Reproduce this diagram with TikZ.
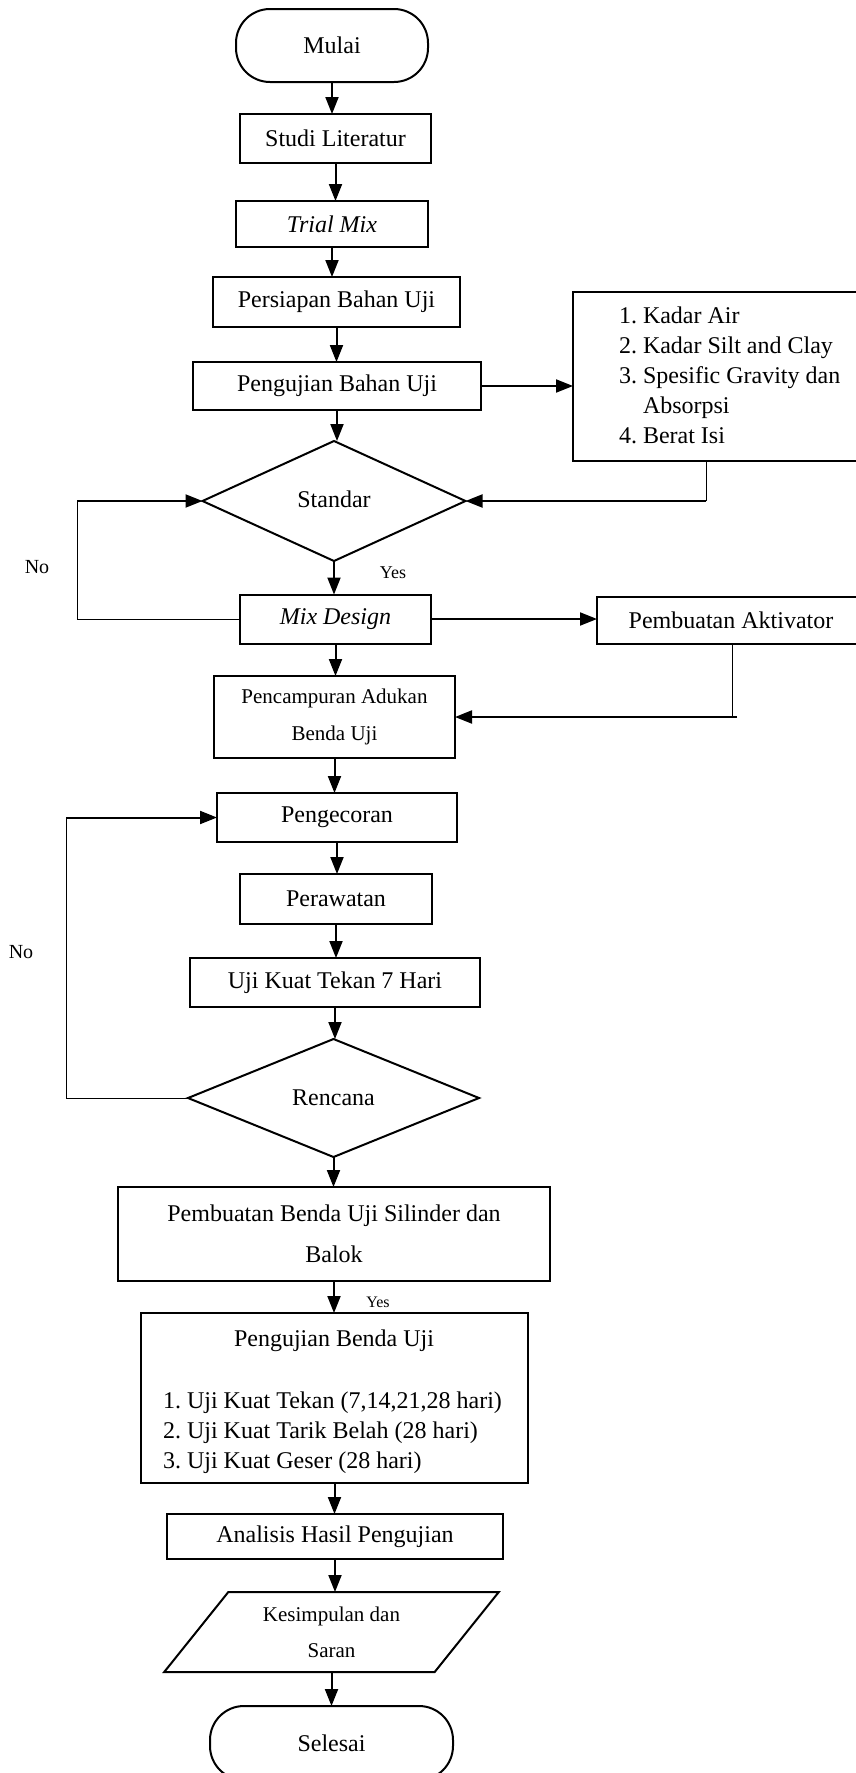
\documentclass[tikz,border=0pt]{standalone}
\usepackage{fontspec}
\setmainfont{Liberation Serif}
\usetikzlibrary{arrows.meta,shapes.geometric}
\begin{document}
\begin{tikzpicture}[x=0.5pt,y=-0.5pt,
  font=\fontsize{12}{15}\selectfont,
  sz/.style 2 args={minimum width=#1*0.5pt,minimum height=#2*0.5pt},
  box/.style={draw,line width=1pt,rectangle,inner sep=0pt,outer sep=0pt,align=center},
  term/.style={box,rounded corners=17pt},
  dec/.style={draw,line width=1pt,diamond,inner sep=0pt,outer sep=0pt,aspect=2.2},
  io/.style={draw,line width=1pt,trapezium,trapezium left angle=50,trapezium right angle=130,trapezium stretches=true,inner sep=0pt,outer sep=0pt,align=center},
  arr/.style={line width=1pt,-{Triangle[length=8.5pt,width=6.5pt]}},
  thinline/.style={line width=0.5pt},
  lbl/.style={inner sep=0pt,outer sep=0pt}
]
\useasboundingbox (0,0) rectangle (856,1773);
\begin{scope}
\clip (0,0) rectangle (856,1773);
% main column
\node[term,sz={192}{73}] (mulai) at (332,45.5) {Mulai};
\node[box,sz={191}{49}] (studi) at (335.5,138.5) {Studi Literatur};
\node[box,sz={192}{46}] (trial) at (332,224) {\itshape Trial Mix};
\node[box,sz={247}{50}] (pers) at (336.5,302) {Persiapan Bahan Uji};
\node[box,sz={288}{48}] (pbu) at (337,386) {Pengujian Bahan Uji};
\node[box,sz={307}{169}] (list) at (726.5,376.5) {};
\node[lbl,anchor=west] (listtxt) at (619,377) {\begin{tabular}{@{}l@{\ }l@{}}1. & Kadar Air\\2. & Kadar Silt and Clay\\3. & Spesific Gravity dan\\ & Absorpsi\\4. & Berat Isi\end{tabular}};
\node[dec,sz={263}{120}] (std) at (334,501) {\raisebox{2pt}{Standar}};
\node[box,sz={191}{49}] (mix) at (335.5,619) {\itshape Mix Design};
\node[box,sz={268}{47}] (act) at (731,620.5) {Pembuatan Aktivator};
\node[box,sz={241}{82},font=\fontsize{10.5}{18.5}\selectfont] (pc) at (334.5,717) {Pencampuran Adukan\\Benda Uji};
\node[box,sz={240}{49}] (pg) at (337,817.5) {Pengecoran};
\node[box,sz={192}{50}] (pr) at (336,899) {Perawatan};
\node[box,sz={290}{49}] (uji) at (335,982.5) {Uji Kuat Tekan 7 Hari};
\node[dec,sz={291}{118}] (ren) at (333.5,1098) {Rencana};
\node[box,sz={432}{94},font=\fontsize{12}{20.5}\selectfont] (pbuat) at (334,1234) {Pembuatan Benda Uji Silinder dan\\Balok};
\node[box,sz={387}{170}] (peng) at (334.5,1398) {};
\node[lbl] (pengt) at (334,1341) {Pengujian Benda Uji};
\node[lbl,anchor=west] (pengl) at (163,1432) {\begin{tabular}{@{}l@{\ }l@{}}1. & Uji Kuat Tekan (7,14,21,28 hari)\\2. & Uji Kuat Tarik Belah (28 hari)\\3. & Uji Kuat Geser (28 hari)\end{tabular}};
\node[box,sz={336}{45}] (ana) at (335,1536.5) {Analisis Hasil Pengujian};
\node[io,sz={335}{80},font=\fontsize{10.5}{18}\selectfont] (kes) at (331.5,1632) {Kesimpulan dan\\Saran};
\node[term,sz={243}{74}] (sel) at (331.5,1743) {Selesai};
% labels
\node[lbl,font=\fontsize{10}{12}\selectfont] (no1) at (37,567) {No};
\node[lbl,font=\fontsize{9}{11}\selectfont] (yes1) at (393,573) {Yes};
\node[lbl,font=\fontsize{10}{12}\selectfont] (no2) at (21,952) {No};
\node[lbl,font=\fontsize{8}{10}\selectfont] (yes2) at (378,1302) {Yes};
% helper coordinates
\coordinate (l1) at (77,0);
\coordinate (r1) at (706,0);
\coordinate (a1) at (732,0);
\coordinate (a2) at (737,0);
\coordinate (l2) at (66,0);
% main arrows
\foreach \a/\b in {mulai/studi,studi/trial,trial/pers,pers/pbu,pbu/std,std/mix,mix/pc,pc/pg,pg/pr,pr/uji,uji/ren,ren/pbuat,pbuat/peng,peng/ana,ana/kes,kes/sel}
  \draw[arr] (\a.south) -- (\a.south |- \b.north);
% side connectors
\draw[arr] (pbu.east) -- (pbu.east -| list.west);
\draw[thinline] (r1 |- list.south) -- (r1 |- std.east);
\draw[arr] (r1 |- std.east) -- (std.east);
\draw[thinline] (mix.west) -- (mix.west -| l1) -- (l1 |- std.west);
\draw[arr] (l1 |- std.west) -- (std.west);
\draw[arr] (mix.east) -- (mix.east -| act.west);
\draw[thinline] (a1 |- act.south) -- (a1 |- pc.east);
\draw[arr] (a2 |- pc.east) -- (pc.east);
\draw[thinline] (ren.west) -- (ren.west -| l2) -- (l2 |- pg.west);
\draw[arr] (l2 |- pg.west) -- (pg.west);
\end{scope}
\end{tikzpicture}
\end{document}
